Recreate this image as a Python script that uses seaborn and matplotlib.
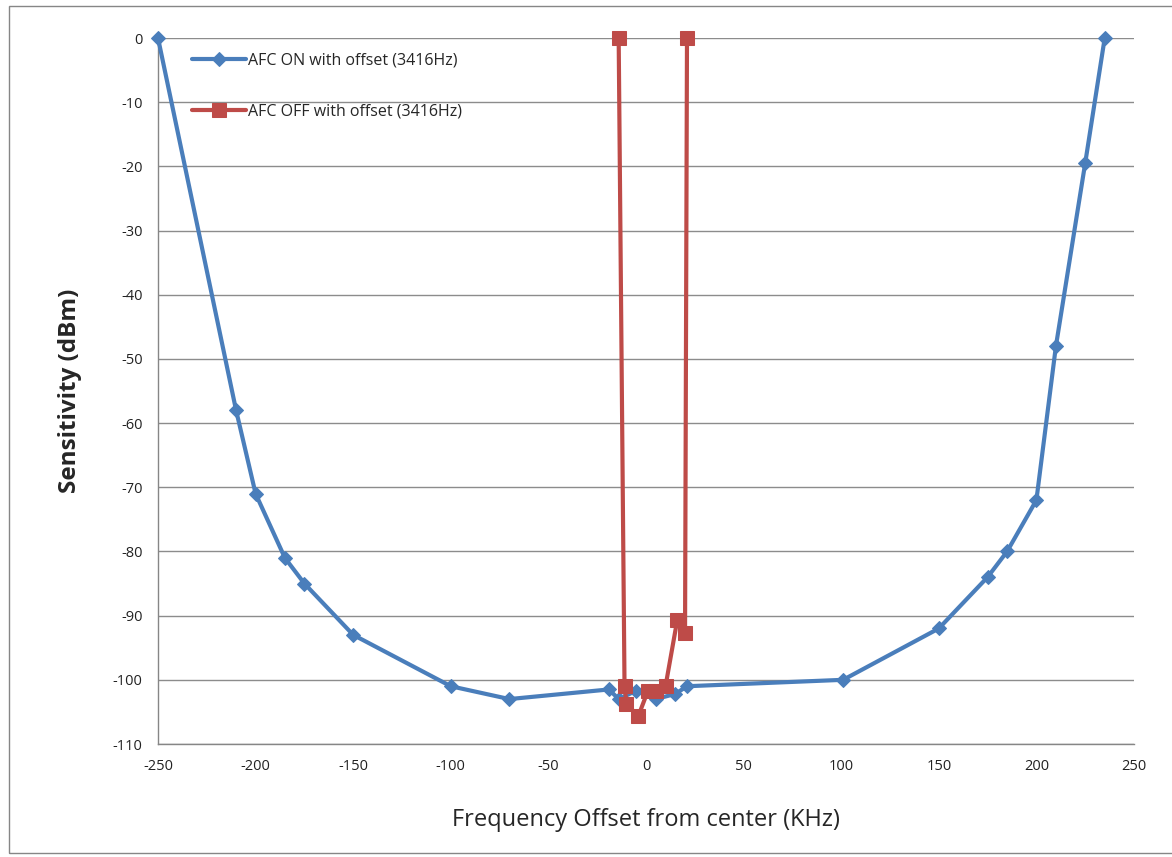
import matplotlib
matplotlib.use("Agg")
import matplotlib.pyplot as plt
import seaborn as sns
import pandas as pd
from matplotlib.patches import Rectangle

# Data
on_label = "AFC ON with offset (3416Hz)"
off_label = "AFC OFF with offset (3416Hz)"
on_freq = [-250, -210, -200, -185, -175, -150, -100, -70, -19, -14, -5, 5, 15, 21, 101, 150, 175, 185, 200, 210, 225, 235]
on_sens = [0, -58, -71, -81, -85, -93, -101, -103, -101.5, -103, -101.7, -103, -102.2, -101, -100, -92, -84, -80, -72, -48, -19.5, 0]
off_freq = [-14, -11, -10, -4, 1, 5, 10, 16, 20, 21]
off_sens = [0, -101, -103.7, -105.7, -101.7, -101.7, -101, -90.7, -92.7, 0]
x_ticks = list(range(-250, 251, 50))
y_ticks = list(range(-110, 1, 10))

sns.set_style("white")
plt.rcParams['font.family'] = ['Open Sans', 'DejaVu Sans']
plt.rcParams['axes.unicode_minus'] = False

fig = plt.figure(figsize=(11.72, 8.57), dpi=100)
ax = fig.add_axes([158/1172, 1-744/857, (1134-158)/1172, (744-38)/857])

df_on = pd.DataFrame({"x": on_freq, "y": on_sens})
df_off = pd.DataFrame({"x": off_freq, "y": off_sens})

blue = "#4A7EBB"
red = "#BE4B48"
sns.lineplot(data=df_on, x="x", y="y", sort=False, ax=ax, color=blue, lw=3,
             marker="D", markersize=7, markeredgecolor=blue, label=on_label, clip_on=False, zorder=3)
sns.lineplot(data=df_off, x="x", y="y", sort=False, ax=ax, color=red, lw=3,
             marker="s", markersize=10, markeredgecolor=red, label=off_label, clip_on=False, zorder=4)

ax.set_xlim(-250, 250)
ax.set_ylim(-110, 0)
ax.set_xticks(x_ticks)
ax.set_yticks(y_ticks)
ax.tick_params(axis='both', labelsize=10.5, labelcolor='#222222', direction='out', length=5, width=1,
               color='#868686', pad=6)
ax.yaxis.grid(True, color='#8c8c8c', lw=1)
ax.xaxis.grid(False)
for s in ['top', 'right']:
    ax.spines[s].set_visible(False)
for s in ['left', 'bottom']:
    ax.spines[s].set_color('#868686')
    ax.spines[s].set_linewidth(1)

ax.set_xlabel("Frequency Offset from center (KHz)", fontsize=17, labelpad=24)
ax.set_ylabel("Sensitivity (dBm)", fontsize=17.5, fontweight='bold', labelpad=22)

leg = ax.legend(loc='upper left', bbox_to_anchor=(0.02, 1.0), frameon=False, fontsize=11.5,
                handlelength=3.4, labelspacing=2.2, handletextpad=0.1)

fig.patches.append(Rectangle((9/1172, 1-853/857), 1.1, (853-6)/857, transform=fig.transFigure,
                             fill=False, edgecolor='#868686', lw=1))

fig.savefig("out.png", dpi=100)
